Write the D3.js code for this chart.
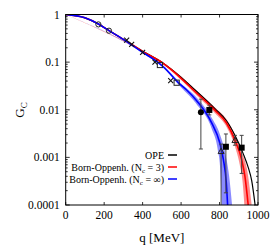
<!DOCTYPE html>
<html><head><meta charset="utf-8">
<script src="https://cdn.jsdelivr.net/npm/d3@7"></script>
<style>body{margin:0;background:#fff}svg{display:block}text{font-family:"Liberation Serif","DejaVu Serif",serif}</style>
</head><body>
<svg id="c" width="273" height="245"></svg>
<script>
// ---- data ----
const xTicks = [0, 200, 400, 600, 800, 1000];
const yTicks = [1, 0.1, 0.01, 0.001, 0.0001];
const yTickLabels = ["1", "0.1", "0.01", "0.001", "0.0001"];

const opeCurve = [[0,1],[100,0.85],[170,0.63],[225,0.46],[300,0.30],[343,0.235],[400,0.17],[507,0.095],[595,0.05],[664,0.028],[776,0.0105],[837,0.0058],[880,0.0029],[923,0.0012],[950,0.0006],[967,0.00033],[985,0.0001]];
const nc3Curve = [[0,1],[100,0.85],[170,0.63],[225,0.46],[300,0.30],[343,0.235],[400,0.168],[507,0.094],[595,0.048],[664,0.026],[776,0.0098],[837,0.0052],[880,0.0023],[915,0.0009],[932,0.0004],[949,0.0001]];
const nc3Upper = [[0,1],[400,0.174],[507,0.098],[595,0.052],[681,0.025],[776,0.0112],[837,0.0062],[880,0.0030],[915,0.0013],[945,0.0005],[967,0.0001]];
const nc3Lower = [[0,1],[400,0.163],[507,0.089],[595,0.044],[681,0.020],[776,0.0085],[837,0.0043],[880,0.0017],[905,0.0007],[920,0.0003],[929,0.0001]];
const ncInfCurve = [[0,1],[100,0.85],[170,0.63],[225,0.46],[300,0.30],[343,0.23],[400,0.16],[464,0.11],[507,0.08],[595,0.034],[629,0.026],[681,0.0155],[759,0.0053],[800,0.0021],[820,0.0009],[835,0.0003],[842,0.0001]];
const ncInfUpper = [[0,1],[400,0.165],[507,0.085],[595,0.037],[681,0.018],[759,0.0068],[800,0.0032],[830,0.0012],[850,0.0004],[865,0.0001]];
const ncInfLower = [[0,1],[400,0.155],[507,0.076],[595,0.031],[681,0.013],[759,0.0040],[790,0.0015],[803,0.0006],[811,0.0001]];

const openCircles = [[170,0.62],[225,0.457]];
const crosses = [[317,0.29],[343,0.235],[400,0.16],[464,0.1],[546,0.041]];
const openSquares = [[490,0.087],[577,0.037]];
const openTriangles = [[808,0.00135,0.0019,0.00008],[880,0.0023,0.0029,0.0018]];
const filledCircles = [[703,0.0089,0.0167,0.0015]];
const filledSquares = [[747,0.0099,0.0125,0.0078],[833,0.00167,0.0031,0.00018],[915,0.0016,0.0029,0.00046]];

const legendItems = [
  {main:"OPE", sub:null, tail:null, color:"#000"},
  {main:"Born-Oppenh. (N", sub:"c", tail:" = 3)", color:"#ff0000"},
  {main:"Born-Oppenh. (N", sub:"c", tail:" = \u221e)", color:"#0000ff"}
];

// ---- drawing ----
const svg = d3.select("#c");
const L = 65.7, R = 258, T = 14.5, B = 205;
const x = d3.scaleLinear().domain([0,1000]).range([L,R]);
const y = d3.scaleLog().domain([1e-4,1]).range([B,T]);

svg.append("clipPath").attr("id","clip").append("rect")
  .attr("x",L).attr("y",T).attr("width",R-L).attr("height",B-T);
const plot = svg.append("g").attr("clip-path","url(#clip)");

const line = d3.line().x(d=>x(d[0])).y(d=>y(d[1])).curve(d3.curveMonotoneX);

function sample(data){
  const p = svg.append("path").attr("d", line(data));
  const node = p.node(), len = node.getTotalLength(), out = [];
  for (let i=0;i<=300;i++){ const q = node.getPointAtLength(len*i/300); out.push([q.x,q.y]); }
  p.remove();
  return out;
}
function drawBand(up, lo, color){
  const pu = sample(up), pl = sample(lo).reverse();
  const pts = pu.concat([[pu[pu.length-1][0], B+10],[pl[0][0], B+10]], pl);
  plot.append("path").attr("d", "M"+pts.map(p=>p[0].toFixed(2)+","+p[1].toFixed(2)).join("L")+"Z")
    .attr("fill", color).attr("stroke","none");
}
drawBand(nc3Upper, nc3Lower, "#ff8a8a");
drawBand(ncInfUpper, ncInfLower, "#8a8aff");

plot.append("path").attr("d", line(opeCurve)).attr("fill","none").attr("stroke","#000").attr("stroke-width",1.2);
plot.append("path").attr("d", line(nc3Curve)).attr("fill","none").attr("stroke","#ff0000").attr("stroke-width",1.6);
plot.append("path").attr("d", line(ncInfCurve)).attr("fill","none").attr("stroke","#0000ff").attr("stroke-width",1.6);

// error bars
[openTriangles, filledCircles, filledSquares].forEach(set => set.forEach(d => {
  const cx = x(d[0]);
  plot.append("line").attr("x1",cx).attr("x2",cx).attr("y1",y(d[2])).attr("y2",y(d[3]))
    .attr("stroke","#444").attr("stroke-width",1);
  [d[2], d[3]].forEach(v => plot.append("line").attr("x1",cx-2).attr("x2",cx+2)
    .attr("y1",y(v)).attr("y2",y(v)).attr("stroke","#444").attr("stroke-width",1));
}));

// markers
const mk = svg.append("g");
openCircles.forEach(d => mk.append("circle").attr("cx",x(d[0])).attr("cy",y(d[1])).attr("r",2.6)
  .attr("fill","none").attr("stroke","#222").attr("stroke-width",1));
crosses.forEach(d => {
  const cx=x(d[0]), cy=y(d[1]), s=2.5;
  mk.append("path").attr("d",`M${cx-s},${cy-s}L${cx+s},${cy+s}M${cx-s},${cy+s}L${cx+s},${cy-s}`)
    .attr("stroke","#111").attr("stroke-width",1.1);
});
openSquares.forEach(d => mk.append("rect").attr("x",x(d[0])-2.6).attr("y",y(d[1])-2.6)
  .attr("width",5.2).attr("height",5.2).attr("fill","none").attr("stroke","#222").attr("stroke-width",1));
openTriangles.forEach(d => {
  const cx=x(d[0]), cy=y(d[1]), s=3;
  mk.append("path").attr("d",`M${cx},${cy-s}L${cx+s},${cy+s*0.8}L${cx-s},${cy+s*0.8}Z`)
    .attr("fill","none").attr("stroke","#222").attr("stroke-width",1);
});
filledCircles.forEach(d => mk.append("circle").attr("cx",x(d[0])).attr("cy",y(d[1])).attr("r",3).attr("fill","#000"));
filledSquares.forEach(d => mk.append("rect").attr("x",x(d[0])-3).attr("y",y(d[1])-3)
  .attr("width",6).attr("height",6).attr("fill","#000"));

// frame
svg.append("rect").attr("x",L).attr("y",T).attr("width",R-L).attr("height",B-T)
  .attr("fill","none").attr("stroke","#000").attr("stroke-width",1);

// ticks
const tk = svg.append("g").attr("stroke","#000").attr("stroke-width",0.8);
xTicks.forEach(v => {
  tk.append("line").attr("x1",x(v)).attr("x2",x(v)).attr("y1",B).attr("y2",B-3);
  tk.append("line").attr("x1",x(v)).attr("x2",x(v)).attr("y1",T).attr("y2",T+3);
});
const minor = [];
for (let e=-4;e<0;e++) for (let m=2;m<=9;m++) minor.push(m*Math.pow(10,e));
minor.forEach(v => {
  tk.append("line").attr("x1",L).attr("x2",L+2).attr("y1",y(v)).attr("y2",y(v));
  tk.append("line").attr("x1",R).attr("x2",R-2).attr("y1",y(v)).attr("y2",y(v));
});
yTicks.forEach(v => {
  tk.append("line").attr("x1",L).attr("x2",L+4).attr("y1",y(v)).attr("y2",y(v));
  tk.append("line").attr("x1",R).attr("x2",R-4).attr("y1",y(v)).attr("y2",y(v));
});

// tick labels
const lab = svg.append("g").attr("font-size",11.5).attr("fill","#000");
yTicks.forEach((v,i) => lab.append("text").attr("x",L-6).attr("y",y(v)+4).attr("text-anchor","end").text(yTickLabels[i]));
xTicks.forEach(v => lab.append("text").attr("x",x(v)).attr("y",B+14).attr("text-anchor","middle").text(String(v)));

// axis titles
svg.append("text").attr("x",(L+R)/2).attr("y",242).attr("text-anchor","middle")
  .attr("font-size",13).text("q [MeV]");
const yt = svg.append("text").attr("transform","translate(24,110) rotate(-90)").attr("text-anchor","middle")
  .attr("font-size",13);
yt.append("tspan").text("G");
yt.append("tspan").attr("font-size",9).attr("dy",3).text("C");

// legend
const lg = svg.append("g").attr("font-size",10);
legendItems.forEach((it,i) => {
  const yy = 155 + i*12;
  const t = lg.append("text").attr("x",164).attr("y",yy+3.5).attr("text-anchor","end");
  t.append("tspan").text(it.main);
  if (it.sub) {
    t.append("tspan").attr("font-size",7).attr("dy",2).text(it.sub);
    t.append("tspan").attr("dy",-2).text(it.tail);
  }
  lg.append("line").attr("x1",168).attr("x2",177).attr("y1",yy).attr("y2",yy)
    .attr("stroke",it.color).attr("stroke-width",1.5);
});
</script>
</body></html>
